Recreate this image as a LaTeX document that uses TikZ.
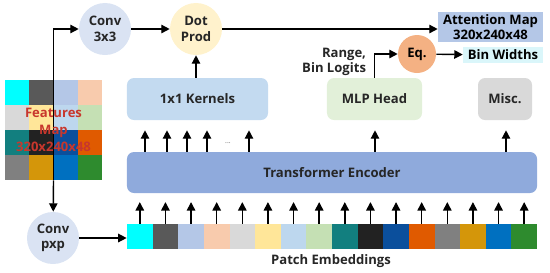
\documentclass[tikz,border=0pt]{standalone}
\usepackage{fontspec}
\setmainfont{Open Sans}
\usetikzlibrary{arrows.meta}

\definecolor{p1}{HTML}{00FFFF}
\definecolor{p2}{HTML}{595959}
\definecolor{p3}{HTML}{B4C7E7}
\definecolor{p4}{HTML}{F8CBAD}
\definecolor{p5}{HTML}{D9D9D9}
\definecolor{p6}{HTML}{FFE699}
\definecolor{p7}{HTML}{BDD7EE}
\definecolor{p8}{HTML}{C5E0B4}
\definecolor{p9}{HTML}{127F7F}
\definecolor{p10}{HTML}{222222}
\definecolor{p11}{HTML}{0B4F9C}
\definecolor{p12}{HTML}{E05A00}
\definecolor{p13}{HTML}{808080}
\definecolor{p14}{HTML}{D4960A}
\definecolor{p15}{HTML}{0070C0}
\definecolor{p16}{HTML}{2E8B2E}
\definecolor{convc}{HTML}{DAE3F3}
\definecolor{dotc}{HTML}{FFF2CC}
\definecolor{kernc}{HTML}{C3DAF0}
\definecolor{mlpc}{HTML}{E2F0D9}
\definecolor{miscc}{HTML}{D9D9D9}
\definecolor{encc}{HTML}{8FAADC}
\definecolor{attc}{HTML}{B4C7E7}
\definecolor{binc}{HTML}{DAF6FA}
\definecolor{eqc}{HTML}{F4B183}
\definecolor{fmapc}{HTML}{C8372D}

\begin{document}
\begin{tikzpicture}[x=0.025cm, y=-0.025cm,
    font=\fontsize{9.3}{11}\selectfont\bfseries,
    box/.style={rounded corners=5pt, minimum height=1.05cm, align=center, text=black!85},
    circ/.style={circle, minimum size=1.3cm, inner sep=0pt, align=center, text=black!85},
    arr/.style={-{Triangle[length=6pt, width=6pt]}, line width=1pt},
    lbl/.style={align=right, text=black!85}
]
\useasboundingbox (0,0) rectangle (550,272);

% top row
\node[circ, fill=convc] (conv3) at (105,29) {Conv\\3x3};
\node[circ, fill=dotc] (dot) at (196,29) {Dot\\Prod};
\node[fill=attc, minimum width=2.625cm, minimum height=0.75cm, inner sep=0pt, align=center] (att) at (490.5,27) {Attention Map\\320x240x48};
\node[circle, fill=eqc, minimum size=0.95cm, inner sep=0pt] (eq) at (417,54) {Eq.};
\node[fill=binc, minimum width=2cm, minimum height=0.4cm, inner sep=0pt] (bin) at (503,55) {Bin Widths};
\node[lbl, anchor=east] (rng) at (371,62) {Range,\\Bin Logits};

% heads
\node[box, fill=kernc, minimum width=3.525cm] (kern) at (197.5,99) {1x1 Kernels};
\node[box, fill=mlpc, minimum width=2.375cm] (mlp) at (374.5,99) {MLP Head};
\node[box, fill=miscc, minimum width=1.35cm] (misc) at (505,99) {Misc.};

% encoder
\node[box, fill=encc, minimum width=10.25cm, minimum height=1.025cm] (enc) at (332,172.5) {Transformer Encoder};

% patch embeddings
\node[minimum width=10.25cm, minimum height=0.625cm, inner sep=0pt] (patches) at (332,236.5) {};
\foreach \c [count=\i from 0] in {p1,p2,p3,p4,p5,p6,p7,p8,p9,p10,p11,p12,p13,p14,p15,p16}
    \fill[\c] (127+25.625*\i,224) rectangle ++(25.625,25);
\node[text=black!85] (pelbl) at (331,261) {Patch Embeddings};

\node[circ, fill=convc] (convp) at (53,238) {Conv\\pxp};

% features map
\node[minimum width=2.425cm, minimum height=2.5cm, inner sep=0pt] (fmap) at (53.5,130) {};
\foreach \c [count=\i from 0] in {p1,p2,p3,p4,p5,p6,p7,p8,p9,p10,p11,p12,p13,p14,p15,p16}
    \fill[\c] ({5+24.25*mod(\i,4)},{80+25*div(\i,4)}) rectangle ++(24.25,25);
\draw[line width=1pt] (fmap.north) -- (fmap.south);
\node[text=fmapc, align=center, font=\fontsize{9.3}{12}\selectfont\bfseries] (fmaptxt) at (53.5,130) {Features\\Map\\320x240x48};

% connectors
\draw[arr] (fmap.north) |- (conv3.west);
\draw[arr] (fmap.south) -- (convp);
\draw[arr] (convp) -- (patches.west |- convp);
\draw[arr] (conv3) -- (dot);
\draw[arr] (dot.east) -- (att.west |- dot.east);
\draw[arr] (kern.north -| dot) -- (dot);
\draw[arr] (mlp.north) |- (eq.west);
\draw[arr] (eq) -- (bin);

\foreach \x in {145,167,187,207,249}
    \draw[arr, shorten >=0.25cm] (enc.north -| \x,0) -- (kern.south -| \x,0);
\node[font=\tiny, text=black!60] (dots) at (228,143) {...};
\draw[arr, shorten >=0.25cm] (enc.north -| 375,0) -- (mlp.south -| 375,0);
\draw[arr, shorten >=0.25cm] (enc.north -| 506,0) -- (misc.south -| 506,0);

\foreach \i in {0,...,15}
    \draw[arr, shorten >=0.22cm] (patches.north -| {139.8+25.625*\i},0) -- (enc.south -| {139.8+25.625*\i},0);
\end{tikzpicture}
\end{document}
